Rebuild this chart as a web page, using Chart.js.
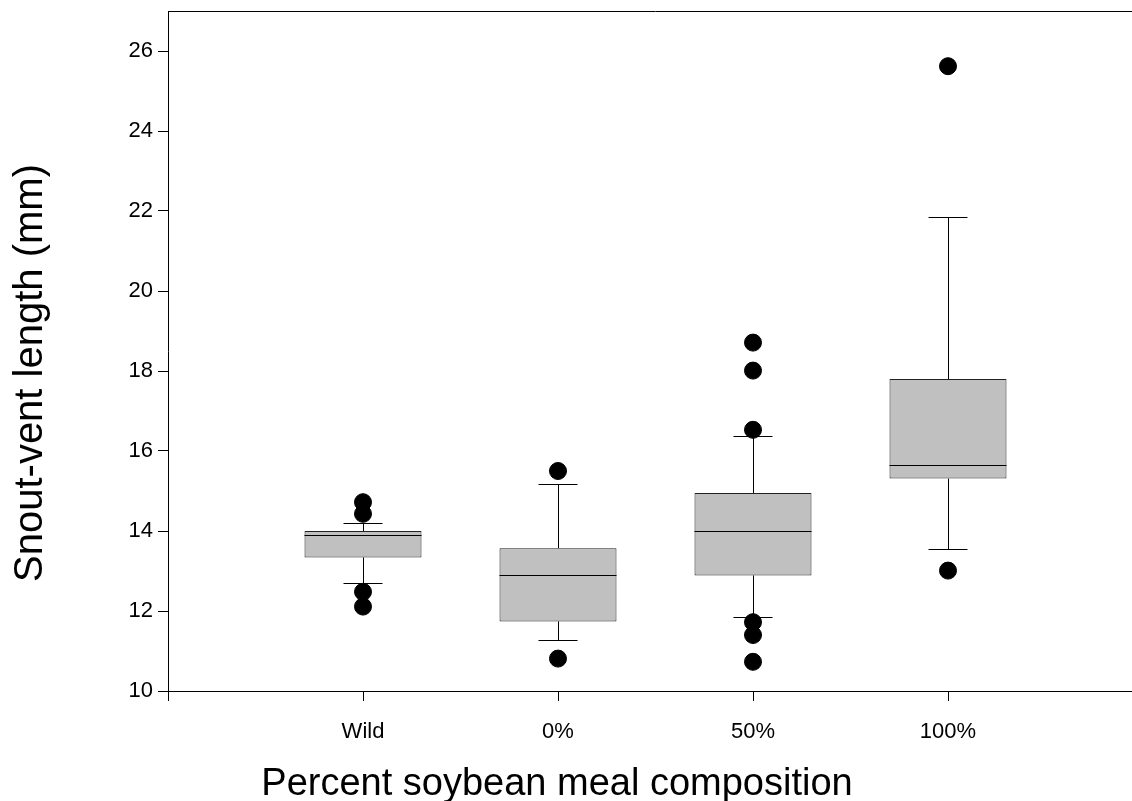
<!DOCTYPE html>
<html>
<head>
<meta charset="utf-8">
<script src="https://cdn.jsdelivr.net/npm/chart.js@4.4.0/dist/chart.umd.min.js"></script>
<style>
html,body{margin:0;padding:0;background:#fff;overflow:hidden}
#wrap{width:1143px;height:801px;position:relative;background:#fff}
canvas{display:block;width:1143px;height:801px}
</style>
</head>
<body>
<div id="wrap"><canvas id="c" width="1143" height="801"></canvas></div>
<script>
// ---- data ----
const categories   = ['Wild', '0%', '50%', '100%'];
const categoryPos  = [1, 2, 3, 4];
const whiskerLow   = [12.69, 11.27, 11.86, 13.54];
const quartile1    = [13.34, 11.74, 12.89, 15.31];
const medians      = [13.89, 12.90, 14.00, 15.65];
const quartile3    = [14.00, 13.57, 14.95, 17.80];
const whiskerHigh  = [14.21, 15.18, 16.38, 21.86];
const outliersWild = [14.72, 14.43, 12.48, 12.11];
const outliers0    = [15.50, 10.81];
const outliers50   = [18.71, 18.01, 16.53, 11.72, 11.40, 10.73];
const outliers100  = [25.62, 13.01];
const xTickValues  = [0, 1, 2, 3, 4];
const yTickValues  = [10, 12, 14, 16, 18, 20, 22, 24, 26];
const xAxisTitle   = 'Percent soybean meal composition';
const yAxisTitle   = 'Snout-vent length (mm)';

const outlierGroups = [outliersWild, outliers0, outliers50, outliers100];
const outlierPoints = [];
outlierGroups.forEach((g, i) => g.forEach(v => outlierPoints.push({x: categoryPos[i], y: v})));
const boxData = categoryPos.map((p, i) => ({x: p, y: [quartile1[i], quartile3[i]]}));

const FONT = '"Liberation Sans", Arial, sans-serif';

const boxPlotPlugin = {
  id: 'boxParts',
  beforeDatasetsDraw(chart) {
    const ctx = chart.ctx, xs = chart.scales.x, ys = chart.scales.y;
    ctx.save();
    ctx.strokeStyle = '#000';
    ctx.lineWidth = 1;
    categoryPos.forEach((p, i) => {
      const x = Math.round(xs.getPixelForValue(p)) + 0.5;
      const capL = xs.getPixelForValue(p - 0.1), capR = xs.getPixelForValue(p + 0.1);
      const yHi = Math.round(ys.getPixelForValue(whiskerHigh[i])) + 0.5;
      const yLo = Math.round(ys.getPixelForValue(whiskerLow[i])) + 0.5;
      const yQ3 = ys.getPixelForValue(quartile3[i]);
      const yQ1 = ys.getPixelForValue(quartile1[i]);
      ctx.beginPath();
      ctx.moveTo(x, yQ3); ctx.lineTo(x, yHi);
      ctx.moveTo(capL, yHi); ctx.lineTo(capR, yHi);
      ctx.moveTo(x, yQ1); ctx.lineTo(x, yLo);
      ctx.moveTo(capL, yLo); ctx.lineTo(capR, yLo);
      ctx.stroke();
    });
    ctx.restore();
  },
  afterDatasetsDraw(chart) {
    const ctx = chart.ctx, ys = chart.scales.y;
    const meta = chart.getDatasetMeta(1);
    ctx.save();
    ctx.strokeStyle = '#000';
    ctx.lineWidth = 1;
    categoryPos.forEach((p, i) => {
      const bar = meta.data[i];
      const y = Math.round(ys.getPixelForValue(medians[i])) + 0.5;
      ctx.beginPath();
      ctx.moveTo(bar.x - bar.width / 2, y);
      ctx.lineTo(bar.x + bar.width / 2, y);
      ctx.stroke();
    });
    const a = chart.chartArea;
    ctx.beginPath();
    ctx.moveTo(a.left, a.top + 0.5);
    ctx.lineTo(a.right, a.top + 0.5);
    ctx.lineTo(a.right, a.bottom);
    ctx.stroke();
    ctx.restore();
  },
  afterDraw(chart) {
    const ctx = chart.ctx;
    ctx.save();
    ctx.fillStyle = '#000';
    ctx.textAlign = 'center';
    ctx.textBaseline = 'middle';
    ctx.font = '38px ' + FONT;
    ctx.fillText(xAxisTitle, 557, 785);
    ctx.font = '40px ' + FONT;
    ctx.translate(31, 373);
    ctx.rotate(-Math.PI / 2);
    ctx.fillText(yAxisTitle, 0, 0);
    ctx.restore();
  }
};

Chart.defaults.color = '#000';
Chart.defaults.font.family = FONT;

new Chart(document.getElementById('c'), {
  type: 'bar',
  data: {
    datasets: [
      {
        type: 'scatter',
        data: outlierPoints,
        pointRadius: 8.5,
        pointBackgroundColor: '#000',
        pointBorderColor: '#000',
        pointBorderWidth: 1,
        order: 0
      },
      {
        type: 'bar',
        data: boxData,
        backgroundColor: '#c0c0c0',
        borderColor: '#222',
        borderWidth: 1,
        borderSkipped: false,
        categoryPercentage: 1,
        barPercentage: 0.6,
        order: 1
      }
    ]
  },
  plugins: [boxPlotPlugin],
  options: {
    responsive: false,
    devicePixelRatio: 1,
    animation: false,
    layout: {autoPadding: false, padding: {top: 11, left: 0, right: 0, bottom: 0}},
    plugins: {legend: {display: false}, tooltip: {enabled: false}},
    scales: {
      x: {
        type: 'linear',
        position: 'bottom',
        offset: false,
        min: 0,
        max: 5,
        grid: {drawOnChartArea: false, drawTicks: true, tickLength: 10, color: '#000', offset: false},
        border: {display: true, color: '#000', width: 1},
        ticks: {
          font: {size: 22},
          padding: 18,
          maxRotation: 0,
          autoSkip: false,
          callback: v => { const k = categoryPos.indexOf(v); return k >= 0 ? categories[k] : ''; }
        },
        afterBuildTicks: s => { s.ticks = xTickValues.map(v => ({value: v})); },
        afterFit: s => { s.height = 110; s.paddingLeft = 0; s.paddingRight = 0; }
      },
      y: {
        type: 'linear',
        min: 10,
        max: 27,
        grid: {drawOnChartArea: false, drawTicks: true, tickLength: 10, color: '#000'},
        border: {display: true, color: '#000', width: 1},
        ticks: {font: {size: 22}, padding: 5},
        afterBuildTicks: s => { s.ticks = yTickValues.map(v => ({value: v})); },
        afterFit: s => { s.width = 168; s.paddingTop = 0; s.paddingBottom = 0; }
      }
    }
  }
});
</script>
</body>
</html>
